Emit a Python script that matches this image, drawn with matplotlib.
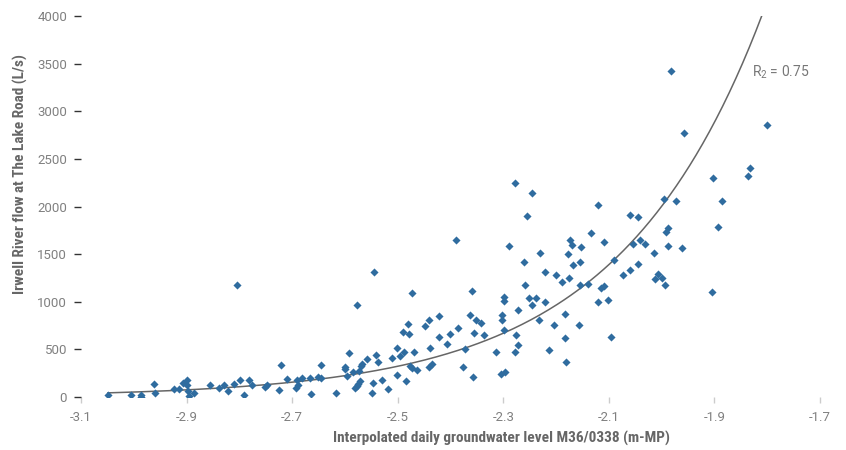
import numpy as np
import matplotlib
matplotlib.use("Agg")
import matplotlib.pyplot as plt
from matplotlib import font_manager

# groundwater level (m-MP) vs river flow (L/s)
level = [-3.049, -3.006, -2.987, -2.986, -2.962, -2.960, -2.924, -2.915, -2.906, -2.899,
         -2.899, -2.897, -2.895, -2.886, -2.856, -2.838, -2.830, -2.822, -2.811, -2.805,
         -2.799, -2.791, -2.781, -2.776, -2.752, -2.747, -2.724, -2.722, -2.709, -2.692,
         -2.690, -2.689, -2.681, -2.666, -2.664, -2.651, -2.646, -2.646, -2.616, -2.600,
         -2.600, -2.597, -2.592, -2.584, -2.580, -2.578, -2.575, -2.578, -2.573, -2.572,
         -2.570, -2.568, -2.558, -2.549, -2.547, -2.542, -2.544, -2.537, -2.530, -2.519,
         -2.511, -2.502, -2.502, -2.496, -2.490, -2.488, -2.484, -2.480, -2.478, -2.476,
         -2.472, -2.473, -2.470, -2.464, -2.449, -2.441, -2.438, -2.440, -2.435, -2.421,
         -2.421, -2.407, -2.401, -2.390, -2.385, -2.377, -2.373, -2.363, -2.359, -2.358,
         -2.356, -2.351, -2.342, -2.337, -2.313, -2.304, -2.296, -2.303, -2.303, -2.299,
         -2.298, -2.298, -2.289, -2.277, -2.277, -2.276, -2.272, -2.272, -2.260, -2.259,
         -2.256, -2.252, -2.245, -2.231, -2.246, -2.238, -2.232, -2.221, -2.221, -2.213,
         -2.204, -2.200, -2.188, -2.183, -2.183, -2.181, -2.178, -2.176, -2.174, -2.169,
         -2.167, -2.157, -2.154, -2.154, -2.152, -2.140, -2.133, -2.120, -2.120, -2.115,
         -2.109, -2.109, -2.101, -2.096, -2.090, -2.073, -2.060, -2.059, -2.055, -2.045,
         -2.045, -2.041, -2.031, -2.015, -2.012, -2.006, -1.999, -1.994, -1.995, -1.988,
         -1.991, -1.988, -1.973, -1.961, -1.983, -1.958, -1.801, -1.832, -1.837, -1.902,
         -1.885, -1.894, -1.905]
flow = [18, 18, 18, 5, 140, 45, 84, 84, 147, 175,
        129, 63, 14, 45, 129, 91, 129, 66, 137, 1173,
        179, 18, 175, 126, 108, 129, 70, 336, 186, 91,
        179, 129, 203, 200, 32, 213, 336, 196, 45, 318,
        291, 220, 459, 262, 94, 115, 137, 966, 270, 165,
        325, 346, 396, 45, 150, 444, 1316, 367, 179, 84,
        413, 511, 231, 430, 686, 476, 168, 763, 658, 322,
        308, 1095, 469, 283, 745, 805, 518, 318, 346, 847,
        630, 556, 661, 1645, 724, 312, 501, 864, 1116, 210,
        672, 812, 777, 648, 476, 241, 266, 858, 812, 707,
        1053, 1011, 1585, 2244, 476, 654, 543, 913, 1414, 1173,
        1897, 1036, 2145, 1515, 963, 1039, 805, 997, 1316, 493,
        759, 1284, 1204, 871, 623, 367, 1505, 1249, 1645, 1596,
        1386, 753, 1176, 1414, 1572, 1183, 1725, 2013, 997, 1141,
        1169, 1627, 1015, 627, 1435, 1278, 1337, 1908, 1610, 1890,
        1393, 1648, 1610, 1512, 1242, 1288, 1253, 1173, 2082, 1774,
        1736, 1582, 2058, 1564, 3426, 2769, 2853, 2404, 2324, 2299,
        2058, 1785, 1102]

x_ticks = [-3.1, -2.9, -2.7, -2.5, -2.3, -2.1, -1.9, -1.7]
y_ticks = [0, 500, 1000, 1500, 2000, 2500, 3000, 3500, 4000]
r2_text = "R$_2$ = 0.75"

names = {f.name for f in font_manager.fontManager.ttflist}
label_font = ["DejaVu Sans"]
for cand in ["Liberation Sans Narrow", "Roboto Condensed", "Open Sans Condensed"]:
    if cand in names:
        label_font = [cand, "DejaVu Sans"]
        break
plt.rcParams["font.family"] = ["Roboto", "DejaVu Sans"]
plt.rcParams["mathtext.default"] = "regular"

fig = plt.figure(figsize=(8.46, 4.5), dpi=100)
ax = fig.add_axes([81 / 846, 53 / 450, 739 / 846, 381 / 450])

ax.scatter(level, flow, marker="D", s=17, color="#2f6c9f", linewidths=0, zorder=3)

# exponential trend line (least squares on log flow)
b, ln_a = np.polyfit(level, np.log(flow), 1)
xs = np.linspace(min(level), max(level), 300)
ax.plot(xs, np.exp(ln_a + b * xs), color="#666666", linewidth=1.1, zorder=2)

ax.text(-1.829, 3413, r2_text, color="#777777", fontsize=10, ha="left", va="center")

ax.set_xlim(-3.1, -1.7)
ax.set_ylim(0, 4000)
ax.set_xticks(x_ticks)
ax.set_yticks(y_ticks)
ax.set_xticklabels([f"{v:.1f}" for v in x_ticks])
for s in ax.spines.values():
    s.set_visible(False)
ax.tick_params(axis="y", length=5, width=1, color="#333333", labelcolor="#808080",
               labelsize=9.5, pad=5)
ax.tick_params(axis="x", length=4, width=1, color="#cccccc", labelcolor="#808080",
               labelsize=9.5, pad=6)

fig.text(501 / 846, 1 - 438 / 450, "Interpolated daily groundwater level M36/0338 (m-MP)",
         ha="center", va="center", fontsize=11, fontweight="bold", fontstretch="condensed",
         color="#666666", family=label_font)
fig.text(20 / 846, 1 - 174 / 450, "Irwell River flow at The Lake Road (L/s)",
         ha="center", va="center", rotation=90, fontsize=11, fontweight="bold",
         fontstretch="condensed", color="#666666", family=label_font)

fig.savefig("out.png", dpi=100)
